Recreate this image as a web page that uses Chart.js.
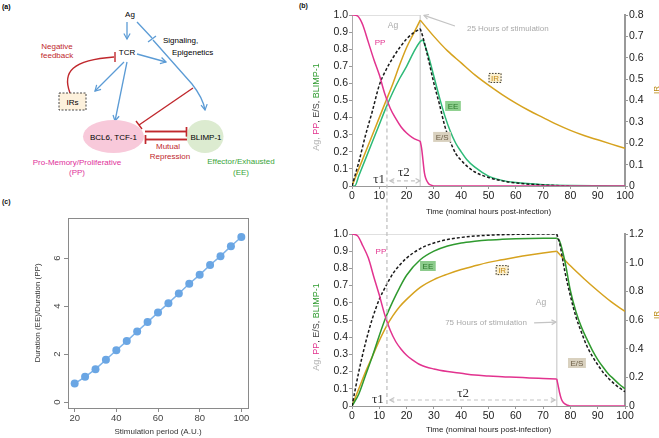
<!DOCTYPE html>
<html>
<head>
<meta charset="utf-8">
<script src="https://cdn.jsdelivr.net/npm/chart.js@4.4.1/dist/chart.umd.min.js"></script>
<style>
  body { margin: 0; background: #fff; width: 659px; height: 438px; position: relative; overflow: hidden;
         font-family: "Liberation Sans", Arial, sans-serif; }
  canvas, svg { position: absolute; }
  .tag { position: absolute; font-size: 7px; font-weight: bold; color: #111; }
</style>
</head>
<body>

<!-- (a) schema -->
<svg width="300" height="190" style="left:0;top:0" font-family="Liberation Sans, Arial, sans-serif" font-size="8">
  <defs>
    <marker id="blueHead" viewBox="0 0 10 10" refX="8" refY="5" markerWidth="6" markerHeight="6" orient="auto">
      <path d="M1,1 L8,5 L1,9" fill="none" stroke="#5b9bd5" stroke-width="1.6"/>
    </marker>
  </defs>
  <text x="2" y="9" font-size="7" font-weight="bold">(a)</text>
  <text x="130" y="17" text-anchor="middle">Ag</text>
  <text x="127" y="55" text-anchor="middle">TCR</text>
  <text x="163" y="43">Signaling,</text>
  <text x="172" y="55">Epigenetics</text>
  <text x="57" y="49" text-anchor="middle" fill="#c0282d">Negative</text>
  <text x="57" y="58" text-anchor="middle" fill="#c0282d">feedback</text>

  <!-- blue activations -->
  <g stroke="#5b9bd5" stroke-width="1.3" fill="none">
    <path d="M127,22 L127,39" marker-end="url(#blueHead)"/>
    <path d="M137,22 L152,38"/>
    <path d="M148,42 L156,36"/>
    <path d="M153,40 L192,84 Q203,98 205,110" marker-end="url(#blueHead)"/>
    <path d="M137,54 L166,62" marker-end="url(#blueHead)"/>
    <path d="M124,62 L95,91" marker-end="url(#blueHead)"/>
    <path d="M127,62 L115,121" marker-end="url(#blueHead)"/>
  </g>

  <!-- red inhibitions -->
  <g stroke="#c0282d" stroke-width="1.4" fill="none">
    <path d="M70,93 C62,72 72,60 114,57"/>
    <path d="M115,52 L115,62"/>
    <path d="M193,88 L139,125"/>
    <path d="M136,121 L142,129"/>
    <path d="M145,131.5 L186,131.5"/>
    <path d="M186.5,127 L186.5,136.5"/>
    <path d="M187,139.5 L146,139.5"/>
    <path d="M145.5,135 L145.5,144"/>
  </g>

  <rect x="59" y="93" width="27" height="17" fill="#fdf1dc" stroke="#333" stroke-width="0.9" stroke-dasharray="2,1.5"/>
  <text x="72.5" y="105" text-anchor="middle">IRs</text>

  <ellipse cx="113.5" cy="136.5" rx="30.5" ry="16.5" fill="#f8c9da"/>
  <text x="113.5" y="140" text-anchor="middle">BCL6, TCF-1</text>
  <ellipse cx="205" cy="136.5" rx="18.5" ry="16.5" fill="#dcebd0"/>
  <text x="206" y="139.5" text-anchor="middle">BLIMP-1</text>
  <!-- redraw the bars on top of the ellipses -->
  <g stroke="#c0282d" stroke-width="1.4" fill="none">
    <path d="M145,131.5 L186,131.5"/>
    <path d="M186.5,127 L186.5,136.5"/>
    <path d="M187,139.5 L146,139.5"/>
    <path d="M145.5,135 L145.5,144"/>
  </g>

  <text x="168" y="149" text-anchor="middle" fill="#c0282d">Mutual</text>
  <text x="170" y="159" text-anchor="middle" fill="#c0282d">Repression</text>
  <text x="77" y="165" text-anchor="middle" fill="#e0309a">Pro-Memory/Proliferative</text>
  <text x="77" y="175" text-anchor="middle" fill="#e0309a">(PP)</text>
  <text x="241" y="164" text-anchor="middle" fill="#3aa53a">Effector/Exhausted</text>
  <text x="241" y="175" text-anchor="middle" fill="#3aa53a">(EE)</text>
</svg>

<div class="tag" style="left:299px;top:2px">(b)</div>
<div class="tag" style="left:2px;top:198px">(c)</div>

<canvas id="bTop" width="349" height="218" style="left:310px;top:0"></canvas>
<canvas id="bBot" width="349" height="220" style="left:310px;top:218px"></canvas>
<canvas id="cPlot" width="260" height="243" style="left:0;top:195px"></canvas>

<script>
/* ── Data: 25 h stimulation (upper panel b) ────────────────────────── */
const ag25X = [0, 25, 25];
const ag25Y = [1, 1, 0];
const ppRise25T = [0, 2, 3, 4, 6, 8, 10, 12, 14, 16, 18, 20, 22, 24, 25];
const ppRise25 = [1, 0.995, 0.975, 0.94, 0.84, 0.74, 0.65, 0.54, 0.455, 0.395, 0.345, 0.31, 0.285, 0.268, 0.262];
const ppDrop25T = [25, 25.5, 26, 26.5, 27, 28, 29, 30, 40, 100];
const ppDrop25 = [0.262, 0.22, 0.15, 0.08, 0.045, 0.015, 0.005, 0, 0, 0];
const rise25T = [0, 2.5, 5, 7.5, 10, 12.5, 15, 17.5, 20, 22.5, 25];
const esRise25 = [0, 0.14, 0.3, 0.44, 0.59, 0.68, 0.75, 0.81, 0.86, 0.895, 0.92];
const irRise25 = [0, 0.08, 0.16, 0.24, 0.32, 0.40, 0.48, 0.568, 0.648, 0.712, 0.776];
const eeRise25T = [0, 1, 2.5, 5, 7.5, 10, 12.5, 15, 17.5, 20, 22.5, 25, 26];
const eeRise25 = [0, 0, 0.06, 0.16, 0.26, 0.36, 0.46, 0.55, 0.63, 0.70, 0.78, 0.845, 0.855];
const eeDecay25T = [26, 28, 30, 32, 34, 36, 38, 40, 42, 45, 50, 55, 60, 70, 80, 90, 100];
const eeDecay25 = [0.855, 0.76, 0.64, 0.52, 0.41, 0.32, 0.25, 0.2, 0.155, 0.11, 0.058, 0.033, 0.02, 0.008, 0.003, 0.001, 0];
const esDecay25T = [25, 26, 28, 30, 32, 34, 36, 38, 40, 42, 45, 50, 55, 60, 70, 80];
const esDecay25 = [0.92, 0.87, 0.74, 0.6, 0.48, 0.35, 0.26, 0.19, 0.15, 0.118, 0.082, 0.05, 0.03, 0.018, 0.006, 0];
const irDecay25T = [25, 30, 35, 40, 45, 50, 55, 60, 65, 70, 75, 80, 85, 90, 95, 100];
const irDecay25 = [0.776, 0.70, 0.632, 0.576, 0.52, 0.472, 0.428, 0.388, 0.352, 0.32, 0.288, 0.26, 0.236, 0.216, 0.196, 0.176];

/* ── Data: 75 h stimulation (lower panel b) ────────────────────────── */
const ag75X = [0, 75, 75];
const ag75Y = [1, 1, 0];
const ppRise75T = [0, 2, 4, 6, 8, 10, 12, 14, 16, 18, 20, 22, 25, 30, 35, 40, 45, 50, 55, 60, 65, 70, 75];
const ppRise75 = [1, 0.99, 0.93, 0.86, 0.75, 0.645, 0.53, 0.44, 0.375, 0.33, 0.295, 0.27, 0.24, 0.215, 0.2, 0.19, 0.18, 0.175, 0.17, 0.167, 0.163, 0.16, 0.157];
const ppDrop75T = [75, 75.5, 76, 76.5, 77, 78, 79, 80, 90, 100];
const ppDrop75 = [0.157, 0.12, 0.08, 0.05, 0.03, 0.012, 0.004, 0, 0, 0];
const rise75T = [0, 2.5, 5, 7.5, 10, 12.5, 15, 17.5, 20, 25, 30, 35, 40, 45, 50, 55, 60, 65, 70, 75];
const esRise75 = [0, 0.2, 0.37, 0.51, 0.62, 0.7, 0.77, 0.82, 0.86, 0.915, 0.948, 0.968, 0.98, 0.988, 0.993, 0.996, 0.998, 0.999, 1, 1];
const eeRise75 = [0, 0.07, 0.18, 0.29, 0.41, 0.52, 0.61, 0.69, 0.76, 0.85, 0.9, 0.93, 0.948, 0.958, 0.965, 0.969, 0.972, 0.974, 0.975, 0.975];
const irRise75 = [0, 0.12, 0.24, 0.348, 0.456, 0.552, 0.63, 0.694, 0.744, 0.828, 0.882, 0.92, 0.952, 0.978, 1.002, 1.02, 1.038, 1.054, 1.068, 1.08];
const decay75T = [75, 76, 78, 80, 82, 84, 86, 88, 90, 92, 94, 96, 98, 100];
const esDecay75 = [1, 0.95, 0.78, 0.64, 0.52, 0.43, 0.35, 0.29, 0.24, 0.195, 0.16, 0.13, 0.105, 0.083];
const eeDecay75 = [0.975, 0.96, 0.84, 0.67, 0.55, 0.46, 0.39, 0.325, 0.27, 0.225, 0.185, 0.155, 0.125, 0.1];
const irDecay75T = [75, 80, 85, 90, 95, 100];
const irDecay75 = [1.08, 0.978, 0.888, 0.804, 0.726, 0.66];

/* ── Data: panel c ─────────────────────────────────────────────────── */
const stimPeriod = [20, 25, 30, 35, 40, 45, 50, 55, 60, 65, 70, 75, 80, 85, 90, 95, 100];
const durationRatio = [0.77, 1.05, 1.37, 1.76, 2.16, 2.54, 2.94, 3.33, 3.73, 4.12, 4.52, 4.93, 5.30, 5.71, 6.08, 6.49, 6.88];

/* ── Helpers ───────────────────────────────────────────────────────── */
const FONT = '"Liberation Sans", Arial, sans-serif';
Chart.defaults.font.family = FONT;
Chart.defaults.color = '#222';

const PINK = '#e2338f', GOLD = '#d6a21e', AGGRAY = '#d6d6d6';
const TAU1 = 12.8;

const pts = (xs, ys) => xs.map((x, i) => ({ x: x, y: ys[i] }));

function curve(xs, ys, color, axis, extra) {
  return Object.assign({
    data: pts(xs, ys), borderColor: color, backgroundColor: color, yAxisID: axis || 'y',
    borderWidth: 1.5, pointRadius: 0, fill: false, cubicInterpolationMode: 'monotone'
  }, extra || {});
}

function tickFmt(v) { return v === 0 ? '0' : v.toFixed(1); }

function drawTag(ctx, x, y, text, o) {
  ctx.font = '8px ' + FONT;
  const w = ctx.measureText(text).width + 5, h = 10;
  if (o.fill) { ctx.fillStyle = o.fill; ctx.fillRect(x - w / 2, y - h / 2, w, h); }
  if (o.dashed) {
    ctx.setLineDash([1.5, 1.5]); ctx.strokeStyle = '#333'; ctx.lineWidth = 1;
    ctx.strokeRect(x - w / 2 + 0.5, y - h / 2 + 0.5, w - 1, h - 1); ctx.setLineDash([]);
  }
  ctx.fillStyle = o.color; ctx.textAlign = 'center'; ctx.textBaseline = 'middle';
  ctx.fillText(text, x, y + 0.5);
}

function drawText(ctx, x, y, text, color, font, align) {
  ctx.font = font || ('8px ' + FONT);
  ctx.fillStyle = color; ctx.textAlign = align || 'center'; ctx.textBaseline = 'middle';
  ctx.fillText(text, x, y);
}

function arrowHead(ctx, x1, y1, x2, y2) {
  const a = Math.atan2(y2 - y1, x2 - x1), L = 5;
  ctx.beginPath();
  ctx.moveTo(x2 - L * Math.cos(a - 0.5), y2 - L * Math.sin(a - 0.5));
  ctx.lineTo(x2, y2);
  ctx.lineTo(x2 - L * Math.cos(a + 0.5), y2 - L * Math.sin(a + 0.5));
  ctx.stroke();
}

function drawArrow(ctx, x1, y1, x2, y2, color, dashed, both) {
  ctx.strokeStyle = color; ctx.lineWidth = 1.2;
  ctx.setLineDash(dashed ? [4, 3] : []);
  ctx.beginPath(); ctx.moveTo(x1, y1); ctx.lineTo(x2, y2); ctx.stroke();
  ctx.setLineDash([]);
  arrowHead(ctx, x1, y1, x2, y2);
  if (both) arrowHead(ctx, x2, y2, x1, y1);
}

function drawRotated(ctx, x, y, parts, font) {
  ctx.save(); ctx.translate(x, y); ctx.rotate(-Math.PI / 2);
  ctx.font = font; ctx.textBaseline = 'middle'; ctx.textAlign = 'left';
  const total = parts.reduce((s, p) => s + ctx.measureText(p[0]).width, 0);
  let cx = -total / 2;
  parts.forEach(p => { ctx.fillStyle = p[1]; ctx.fillText(p[0], cx, 0); cx += ctx.measureText(p[0]).width; });
  ctx.restore();
}

const yTitleParts = [['Ag, ', '#b3b3b3'], ['PP', PINK], [', E/S, ', '#444'], ['BLIMP-1', '#2e9b2e']];

function bScales(irMax, irStep, bottomH, titlePad) {
  return {
    x: {
      type: 'linear', min: 0, max: 100,
      ticks: { stepSize: 10, autoSkip: false, maxRotation: 0, padding: 1, color: '#222', font: { size: 10.5 } },
      grid: { drawOnChartArea: false, tickLength: 3, color: '#999' },
      border: { color: '#999' },
      title: { display: true, text: 'Time (nominal hours post-infection)', color: '#222',
               font: { size: 8 }, padding: { top: 0, bottom: titlePad } },
      afterFit: s => { s.height = bottomH; }
    },
    y: {
      position: 'left', min: 0, max: 1,
      ticks: { stepSize: 0.1, autoSkip: false, padding: 1, color: '#222', font: { size: 10.5 }, callback: tickFmt },
      grid: { drawOnChartArea: false, tickLength: 3, color: '#999' },
      border: { color: '#aaa' },
      afterFit: s => { s.width = 42; }
    },
    y2: {
      position: 'right', min: 0, max: irMax,
      ticks: { stepSize: irStep, autoSkip: false, padding: 1, color: '#222', font: { size: 10.5 }, callback: tickFmt },
      grid: { drawOnChartArea: false, tickLength: 3, color: '#999' },
      border: { color: '#999', width: 2 },
      afterFit: s => { s.width = 34; }
    }
  };
}

const baseOptions = {
  responsive: false, animation: false, devicePixelRatio: 1,
  plugins: { legend: { display: false }, tooltip: { enabled: false } },
  elements: { point: { radius: 0 } }
};

/* ── Upper panel b annotations ─────────────────────────────────────── */
const topNotes = {
  id: 'topNotes',
  afterDraw(chart) {
    const { ctx, scales: { x, y } } = chart;
    const X = v => x.getPixelForValue(v), Y = v => y.getPixelForValue(v);
    ctx.save();
    ctx.strokeStyle = '#bdbdbd'; ctx.lineWidth = 1.2; ctx.setLineDash([4, 3]);
    ctx.beginPath(); ctx.moveTo(X(TAU1), Y(0.5)); ctx.lineTo(X(TAU1), chart.height); ctx.stroke();
    drawArrow(ctx, X(13.9), Y(0.03), X(24.9), Y(0.03), '#c4c4c4', true, true);
    drawText(ctx, X(9.9), Y(0.035), 'τ1', '#333', '13px "Liberation Serif", serif');
    drawText(ctx, X(19), Y(0.076), 'τ2', '#333', '13px "Liberation Serif", serif');
    drawText(ctx, X(15), Y(0.94), 'Ag', '#aaa', '8.5px ' + FONT);
    drawText(ctx, X(42.1), Y(0.918), '25 Hours of stimulation', '#aaa', '8px ' + FONT, 'left');
    drawArrow(ctx, X(37.7), Y(0.936), X(26.4), Y(0.998), '#c4c4c4', false, false);
    drawText(ctx, X(10.3), Y(0.84), 'PP', PINK, '8px ' + FONT);
    drawTag(ctx, X(37), Y(0.468), 'EE', { fill: '#8fd08f', color: '#2b7a2b' });
    drawTag(ctx, X(33), Y(0.287), 'E/S', { fill: '#d9d1bf', color: '#6b5d45' });
    drawTag(ctx, X(52.4), Y(0.632), 'IR', { fill: '#fbf0d0', color: '#c48a12', dashed: true });
    drawRotated(ctx, 7, 107, yTitleParts, '9px ' + FONT);
    drawRotated(ctx, 347, 90, [['IR', '#b8860b']], '8px ' + FONT);
    ctx.restore();
  }
};

/* ── Lower panel b annotations ─────────────────────────────────────── */
const botNotes = {
  id: 'botNotes',
  afterDraw(chart) {
    const { ctx, scales: { x, y } } = chart;
    const X = v => x.getPixelForValue(v), Y = v => y.getPixelForValue(v);
    ctx.save();
    ctx.strokeStyle = '#bdbdbd'; ctx.lineWidth = 1.2; ctx.setLineDash([4, 3]);
    ctx.beginPath(); ctx.moveTo(X(TAU1), 0); ctx.lineTo(X(TAU1), Y(0)); ctx.stroke();
    drawArrow(ctx, X(13.9), Y(0.035), X(74.4), Y(0.035), '#c4c4c4', true, true);
    drawText(ctx, X(9.5), Y(0.035), 'τ1', '#333', '13px "Liberation Serif", serif');
    drawText(ctx, X(40.7), Y(0.075), 'τ2', '#333', '13px "Liberation Serif", serif');
    drawText(ctx, X(10.6), Y(0.895), 'PP', PINK, '8px ' + FONT);
    drawTag(ctx, X(27.8), Y(0.814), 'EE', { fill: '#8ccb8c', color: '#2b7a2b' });
    drawTag(ctx, X(55), Y(0.79), 'IR', { fill: '#fbf0d0', color: '#c48a12', dashed: true });
    drawText(ctx, X(69.2), Y(0.6), 'Ag', '#aaa', '8.5px ' + FONT);
    drawText(ctx, X(49.1), Y(0.483), '75 Hours of stimulation', '#aaa', '8px ' + FONT);
    drawArrow(ctx, X(66.7), Y(0.483), X(74.7), Y(0.488), '#c4c4c4', false, false);
    drawTag(ctx, X(82.4), Y(0.25), 'E/S', { fill: '#d9d1bf', color: '#6b5d45' });
    drawRotated(ctx, 7, 109, yTitleParts, '9px ' + FONT);
    drawRotated(ctx, 347, 97, [['IR', '#b8860b']], '8px ' + FONT);
    ctx.restore();
  }
};

/* ── Upper panel b chart ───────────────────────────────────────────── */
new Chart(document.getElementById('bTop'), {
  type: 'line',
  data: {
    datasets: [
      curve(ppRise25T, ppRise25, PINK),
      curve(ppDrop25T, ppDrop25, PINK),
      curve(rise25T, esRise25, '#1a1a1a', 'y', { borderDash: [3, 2] }),
      curve(esDecay25T, esDecay25, '#1a1a1a', 'y', { borderDash: [3, 2] }),
      curve(eeRise25T, eeRise25, '#2dba78'),
      curve(eeDecay25T, eeDecay25, '#2dba78'),
      curve(rise25T, irRise25, GOLD, 'y2'),
      curve(irDecay25T, irDecay25, GOLD, 'y2'),
      curve(ag25X, ag25Y, AGGRAY, 'y', { cubicInterpolationMode: 'default', tension: 0 })
    ]
  },
  options: Object.assign({}, baseOptions, {
    layout: { padding: { top: 15, left: 0, right: 0, bottom: 0 } },
    scales: bScales(0.8, 0.1, 32, 1)
  }),
  plugins: [topNotes]
});

/* ── Lower panel b chart ───────────────────────────────────────────── */
new Chart(document.getElementById('bBot'), {
  type: 'line',
  data: {
    datasets: [
      curve(ppRise75T, ppRise75, PINK),
      curve(ppDrop75T, ppDrop75, PINK),
      curve(rise75T, esRise75, '#1a1a1a', 'y', { borderDash: [3, 2] }),
      curve(decay75T, esDecay75, '#1a1a1a', 'y', { borderDash: [3, 2] }),
      curve(rise75T, eeRise75, '#2f9a2f'),
      curve(decay75T, eeDecay75, '#2f9a2f'),
      curve(rise75T, irRise75, GOLD, 'y2'),
      curve(irDecay75T, irDecay75, GOLD, 'y2'),
      curve(ag75X, ag75Y, AGGRAY, 'y', { cubicInterpolationMode: 'default', tension: 0 })
    ]
  },
  options: Object.assign({}, baseOptions, {
    layout: { padding: { top: 16, left: 0, right: 0, bottom: 0 } },
    scales: bScales(1.2, 0.2, 32, 3)
  }),
  plugins: [botNotes]
});

/* ── Panel c chart ─────────────────────────────────────────────────── */
const cBox = {
  id: 'cBox',
  afterDraw(chart) {
    const { ctx, chartArea: a, scales: { y } } = chart;
    ctx.save();
    ctx.strokeStyle = '#8a8a8a'; ctx.lineWidth = 1;
    ctx.strokeRect(a.left + 0.5, a.top + 0.5, a.right - a.left, a.bottom - a.top);
    y.ticks.forEach(t => {
      drawRotated(ctx, 57, y.getPixelForValue(t.value), [[String(t.value), '#444']], '9.5px ' + FONT);
    });
    ctx.restore();
  }
};

new Chart(document.getElementById('cPlot'), {
  type: 'line',
  data: {
    datasets: [{
      data: pts(stimPeriod, durationRatio),
      borderColor: '#7db2e8', backgroundColor: '#6aa6e4', borderWidth: 1.5,
      pointRadius: 4, pointBorderWidth: 0, pointBackgroundColor: '#6aa6e4', tension: 0
    }]
  },
  options: Object.assign({}, baseOptions, {
    layout: { padding: { top: 23, right: 12, left: 0, bottom: 0 } },
    scales: {
      x: {
        type: 'linear', min: 16.8, max: 103.2,
        ticks: { stepSize: 20, includeBounds: false, autoSkip: false, maxRotation: 0, padding: 1, color: '#444', font: { size: 9.5 } },
        grid: { drawOnChartArea: false, tickLength: 4, color: '#8a8a8a' },
        border: { display: false },
        title: { display: true, text: 'Stimulation period (A.U.)', color: '#333', font: { size: 8 }, padding: { top: 0, bottom: 1 } },
        afterFit: s => { s.height = 30; }
      },
      y: {
        type: 'linear', min: -0.25, max: 7.67,
        ticks: { stepSize: 2, includeBounds: false, display: false },
        grid: { drawOnChartArea: false, tickLength: 4, color: '#8a8a8a' },
        border: { display: false },
        title: { display: true, text: 'Duration (EE)/Duration (PP)', color: '#333', font: { size: 8 }, padding: { top: 33, bottom: 0 } },
        afterFit: s => { s.width = 68; }
      }
    }
  }),
  plugins: [cBox]
});
</script>
</body>
</html>
